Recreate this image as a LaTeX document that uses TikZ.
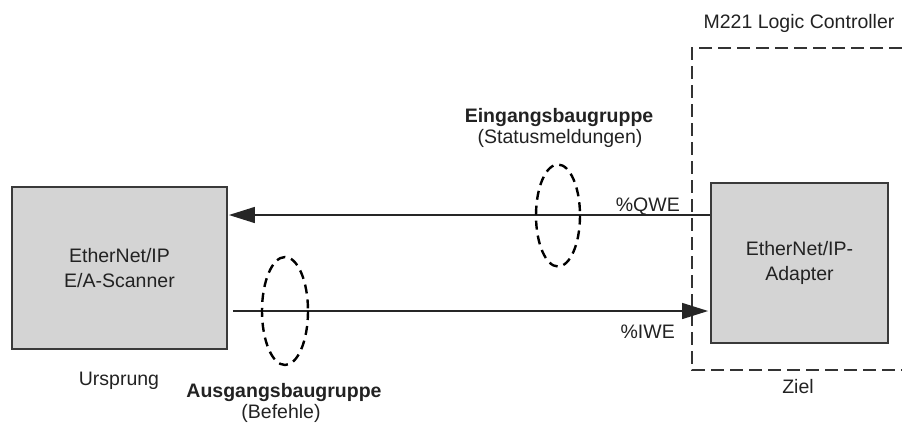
\documentclass[tikz,border=0pt]{standalone}
\usepackage{fontspec}
\setmainfont{Liberation Sans}
\usetikzlibrary{arrows.meta}
\definecolor{txt}{HTML}{222222}
\definecolor{boxfill}{HTML}{D4D4D4}
\definecolor{boxline}{HTML}{3A3A3A}
\tikzset{
  devbox/.style={draw=boxline, line width=1.8pt, fill=boxfill, align=center,
    text=txt, font=\fontsize{19.5}{25}\selectfont, inner sep=0pt},
  lbl/.style={text=txt, font=\fontsize{19.5}{22}\selectfont, inner sep=0pt},
  flow/.style={line width=1.4pt, draw=black!85, -{Triangle[length=26pt,width=16pt]}},
  grp/.style={line width=2.4pt, dash pattern=on 9pt off 6pt, draw=black},
  frame/.style={line width=1.3pt, dash pattern=on 13pt off 6pt, draw=black!80}
}
\begin{document}
\begin{tikzpicture}[x=1pt,y=-1pt]
\useasboundingbox (0,0) rectangle (902,423);
% container frame (open on the right)
\draw[frame] (902,48) -- (692,48) -- (692,370) -- (902,370);
% boxes
\node[devbox, minimum width=215pt, minimum height=162pt] (L) at (119.5,268) {EtherNet/IP\\E/A-Scanner};
\node[devbox, minimum width=177pt, minimum height=160pt] (R) at (799.5,263) {EtherNet/IP-\\Adapter};
% connectors
\coordinate (t1) at (L.east |- 0,215);
\coordinate (t2) at (R.west |- 0,215);
\coordinate (b1) at (L.east |- 0,311);
\coordinate (b2) at (R.west |- 0,311);
\draw[flow, shorten >=1pt] (t2) -- (t1);
\draw[flow, shorten <=5pt, shorten >=2pt] (b1) -- (b2);
% group ellipses
\draw[grp] (558,215.5) ellipse [x radius=22, y radius=51];
\draw[grp] (285,311) ellipse [x radius=23, y radius=54];
% labels
\node[lbl, anchor=base] (mc) at (799,28) {M221 Logic Controller};
\node[lbl, anchor=base] (ziel) at (798,393) {Ziel};
\node[lbl, anchor=base] (urs) at (119,385) {Ursprung};
\node[lbl, anchor=base, font=\fontsize{19.5}{22}\bfseries] (ein) at (559,122) {Eingangsbaugruppe};
\node[lbl, anchor=base] (stat) at (560,143) {(Statusmeldungen)};
\node[lbl, anchor=base, font=\fontsize{19.5}{22}\bfseries] (aus) at (284,397) {Ausgangsbaugruppe};
\node[lbl, anchor=base] (bef) at (281,418) {(Befehle)};
\node[lbl, anchor=base east] (qwe) at (680,211) {\%QWE};
\node[lbl, anchor=base east] (iwe) at (675,338) {\%IWE};
\end{tikzpicture}
\end{document}
